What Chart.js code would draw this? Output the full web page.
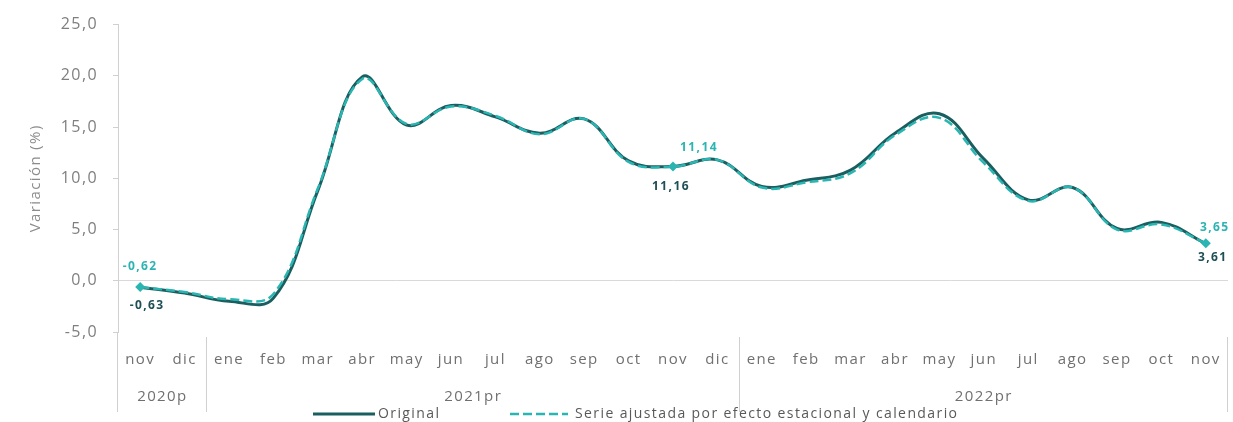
<!DOCTYPE html>
<html lang="es">
<head>
    <meta charset="UTF-8">
    <title>Variación (%)</title>
    <script src="https://cdn.jsdelivr.net/npm/chart.js"></script>
    <style>
        html, body { margin: 0; padding: 0; background: #fff; }
        #wrap { width: 1233px; height: 422px; }
    </style>
</head>
<body>
    <div id="wrap"><canvas id="chart"></canvas></div>
    <script>
        const months = ['nov', 'dic', 'ene', 'feb', 'mar', 'abr', 'may', 'jun', 'jul', 'ago', 'sep', 'oct', 'nov', 'dic',
                        'ene', 'feb', 'mar', 'abr', 'may', 'jun', 'jul', 'ago', 'sep', 'oct', 'nov'];
        const years = ['2020p', '2021pr', '2022pr'];
        const yearSpans = [[0, 1], [2, 13], [14, 24]];
        const original = [-0.63, -1.2, -2.0, -1.7, 8.8, 19.9, 15.2, 17.1, 16.0, 14.4, 15.8, 11.7, 11.16, 11.8,
                          9.2, 9.8, 10.8, 14.4, 16.3, 11.9, 7.9, 9.1, 5.1, 5.7, 3.61];
        const adjusted = [-0.62, -1.1, -1.8, -1.3, 9.0, 19.7, 15.3, 17.0, 16.1, 14.3, 15.8, 11.6, 11.14, 11.8,
                          9.1, 9.6, 10.5, 14.2, 15.9, 11.5, 7.8, 9.1, 5.0, 5.5, 3.65];
        const markedPoints = [0, 12, 24];

        const darkColor = '#1b5e5f';
        const lightColor = '#2bb5b2';
        const fmt = v => v.toFixed(2).replace('.', ',');
        const radii = months.map((m, i) => markedPoints.includes(i) ? 5 : 0);

        // el original parece estirado a lo ancho: algo de espacio entre letras
        function spacing(chart) { chart.ctx.letterSpacing = '1.4px'; }

        const extras = {
            id: 'extras',
            beforeUpdate: spacing,
            beforeLayout: spacing,
            beforeDraw: spacing,
            afterDatasetsDraw(chart) {
                const ctx = chart.ctx;
                const metaO = chart.getDatasetMeta(0);
                const metaA = chart.getDatasetMeta(1);
                // desplazamientos de las etiquetas [dxA, dyA, dxO, dyO]
                const offs = [[0, -21, 7, 18], [26, -19, -2, 20], [9, -16, 7, 14]];
                ctx.save();
                ctx.font = 'bold 12px "Open Sans"';
                ctx.textAlign = 'center';
                ctx.textBaseline = 'middle';
                markedPoints.forEach((i, k) => {
                    const pa = metaA.data[i];
                    const po = metaO.data[i];
                    const o = offs[k];
                    ctx.fillStyle = lightColor;
                    ctx.fillText(fmt(adjusted[i]), pa.x + o[0], pa.y + o[1]);
                    ctx.fillStyle = '#1d4f55';
                    ctx.fillText(fmt(original[i]), po.x + o[2], po.y + o[3]);
                });
                ctx.restore();
            },
            afterDraw(chart) {
                const ctx = chart.ctx;
                const x = chart.scales.x;
                const area = chart.chartArea;
                ctx.save();
                ctx.strokeStyle = '#d0d0d0';
                ctx.lineWidth = 1;
                const step = x.getPixelForValue(1) - x.getPixelForValue(0);
                const edges = [x.getPixelForValue(0) - step / 2];
                yearSpans.forEach(s => edges.push(x.getPixelForValue(s[1]) + step / 2));
                edges.forEach((ex, j) => {
                    ctx.beginPath();
                    ctx.moveTo(Math.round(ex) - 0.5, j === 0 ? area.bottom : area.bottom + 5);
                    ctx.lineTo(Math.round(ex) - 0.5, area.bottom + 80);
                    ctx.stroke();
                });
                ctx.fillStyle = '#707070';
                ctx.font = '15px "Open Sans"';
                ctx.textAlign = 'center';
                ctx.textBaseline = 'middle';
                yearSpans.forEach((s, j) => {
                    const cx = (x.getPixelForValue(s[0]) + x.getPixelForValue(s[1])) / 2;
                    ctx.fillText(years[j], cx, area.bottom + 65);
                });

                // leyenda
                const ly = area.bottom + 82;
                let lx = 313;
                ctx.font = '14px "Open Sans"';
                ctx.textAlign = 'left';
                ctx.fillStyle = '#595959';
                chart.data.datasets.forEach((ds, j) => {
                    ctx.strokeStyle = ds.borderColor;
                    ctx.lineWidth = ds.borderWidth;
                    ctx.setLineDash(ds.borderDash || []);
                    const w = j === 0 ? 62 : 58;
                    ctx.beginPath();
                    ctx.moveTo(lx, ly);
                    ctx.lineTo(lx + w, ly);
                    ctx.stroke();
                    ctx.setLineDash([]);
                    ctx.fillText(ds.label, lx + w + (j === 0 ? 3 : 7), ly);
                    lx += w + 135;
                });
                ctx.restore();
            }
        };

        new Chart(document.getElementById('chart'), {
            type: 'line',
            data: {
                labels: months,
                datasets: [{
                    label: 'Original',
                    data: original,
                    borderColor: darkColor,
                    backgroundColor: darkColor,
                    borderWidth: 3,
                    tension: 0.4,
                    pointRadius: 0,
                    order: 2
                }, {
                    label: 'Serie ajustada por efecto estacional y calendario',
                    data: adjusted,
                    borderColor: lightColor,
                    backgroundColor: lightColor,
                    borderWidth: 2.5,
                    borderDash: [9, 4],
                    tension: 0.4,
                    pointStyle: 'rectRot',
                    pointRadius: radii,
                    pointBorderWidth: 0,
                    order: 1
                }]
            },
            options: {
                responsive: true,
                maintainAspectRatio: false,
                animation: false,
                layout: { padding: { top: 21, right: 4, left: 0, bottom: 0 } },
                plugins: {
                    tooltip: { enabled: false },
                    legend: { display: false }
                },
                scales: {
                    x: {
                        offset: true,
                        grid: { display: false },
                        border: { display: false },
                        ticks: {
                            color: '#707070',
                            font: { family: '"Open Sans"', size: 15 },
                            padding: 11,
                            maxRotation: 0,
                            autoSkip: false
                        },
                        afterFit(scale) { scale.height = 90; }
                    },
                    y: {
                        min: -5,
                        max: 25,
                        grid: {
                            color: ctx => ctx.tick && ctx.tick.value === 0 ? '#d9d9d9' : 'rgba(0,0,0,0)',
                            tickColor: '#d0d0d0',
                            tickLength: 5
                        },
                        border: { display: true, color: '#d0d0d0' },
                        ticks: {
                            stepSize: 5,
                            color: '#7f7f7f',
                            padding: 15,
                            font: { family: '"Open Sans"', size: 16 },
                            callback: v => v.toFixed(1).replace('.', ',')
                        },
                        title: {
                            display: true,
                            text: 'Variación (%)',
                            color: '#8c8c8c',
                            font: { family: '"Open Sans"', size: 15 },
                            padding: { top: 27, bottom: 0 }
                        },
                        afterFit(scale) { scale.width = 118; }
                    }
                }
            },
            plugins: [extras]
        });
    </script>
</body>
</html>
